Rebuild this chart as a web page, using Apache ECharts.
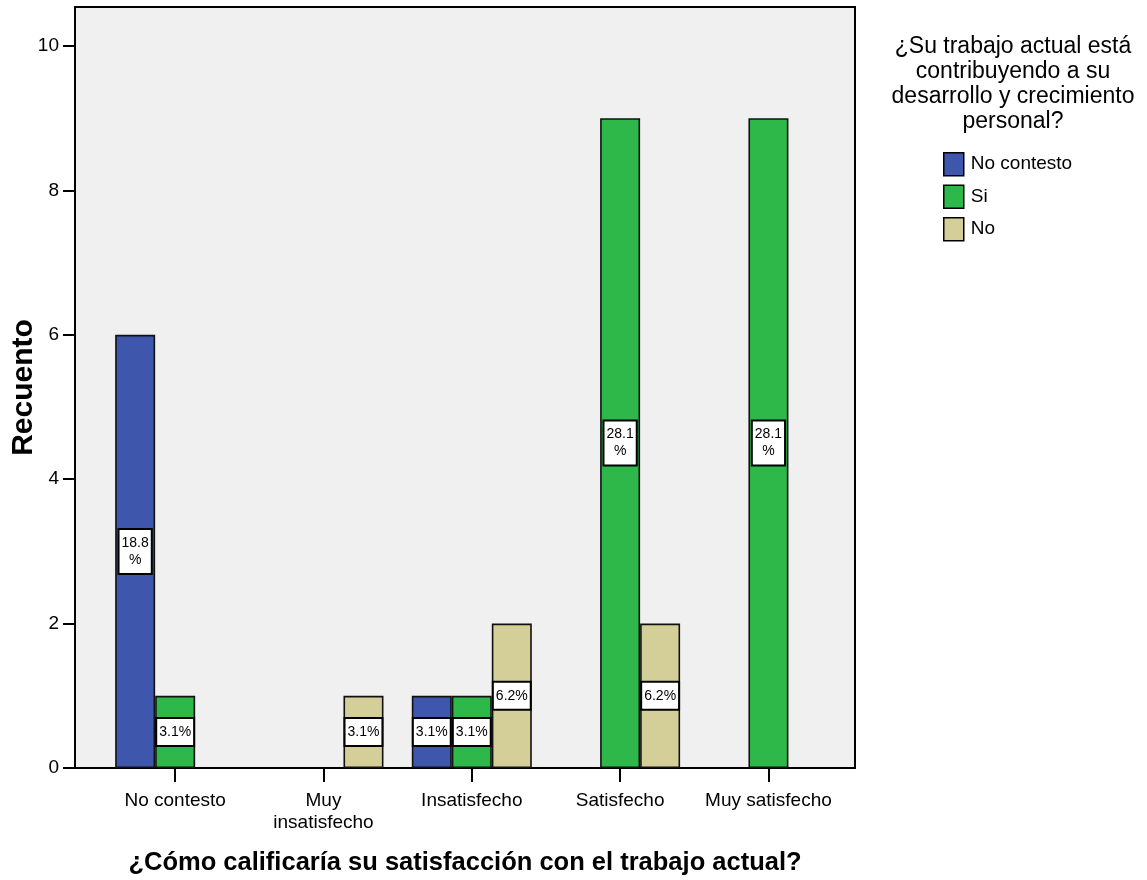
<!DOCTYPE html>
<html>
<head>
<meta charset="utf-8">
<script src="https://cdn.jsdelivr.net/npm/echarts@6/dist/echarts.min.js"></script>
<style>html,body{margin:0;padding:0;background:#fff}#c{width:1147px;height:880px}</style>
</head>
<body>
<div id="c"></div>
<script>
// ---- data ----
const categories = ['No contesto', 'Muy\ninsatisfecho', 'Insatisfecho', 'Satisfecho', 'Muy satisfecho'];
const seriesNames = ['No contesto', 'Si', 'No'];
const noContesto = [6, 0, 1, 0, 0];
const si = [1, 0, 1, 9, 9];
const no = [0, 1, 2, 2, 0];
const pctNoContesto = ['18.8\n%', '', '3.1%', '', ''];
const pctSi = ['3.1%', '', '3.1%', '28.1\n%', '28.1\n%'];
const pctNo = ['', '3.1%', '6.2%', '6.2%', ''];
const yTicks = [0, 2, 4, 6, 8, 10];
const yMax = 10.54;
const legendTitle = '¿Su trabajo actual está\ncontribuyendo a su\ndesarrollo y crecimiento\npersonal?';
const xTitle = '¿Cómo calificaría su satisfacción con el trabajo actual?';
const yTitle = 'Recuento';
const colors = ['#3e56ab', '#2eb84a', '#d4cf98'];

const SANS = "'Liberation Sans', Arial, Helvetica, sans-serif";

function mkSeries(name, vals, labels, color) {
  return {
    name: name,
    type: 'bar',
    xAxisIndex: 1,
    yAxisIndex: 1,
    barWidth: 40,
    barGap: '0%',
    data: vals.map(function (v) { return v === 0 ? null : v; }),
    itemStyle: { color: color, borderColor: '#111', borderWidth: 1.6 },
    label: {
      show: true,
      position: 'inside',
      formatter: function (p) { return labels[p.dataIndex]; },
      fontFamily: SANS,
      fontSize: 14,
      lineHeight: 17,
      color: '#000',
      backgroundColor: '#fff',
      borderColor: '#000',
      borderWidth: 2,
      padding: [5, 2, 4, 2],
      align: 'center'
    }
  };
}

const chart = echarts.init(document.getElementById('c'), null, { renderer: 'canvas' });
chart.setOption({
  animation: false,
  color: colors,
  title: {
    text: legendTitle,
    left: 1008,
    top: 29,
    textAlign: 'center',
    textStyle: { fontFamily: SANS, fontSize: 23, fontWeight: 'normal', lineHeight: 25, color: '#000', align: 'center' }
  },
  legend: {
    orient: 'vertical',
    left: 943,
    top: 152,
    padding: 0,
    itemWidth: 20,
    itemHeight: 23,
    itemGap: 8,
    icon: 'rect',
    itemStyle: { borderColor: '#000', borderWidth: 1.5 },
    textStyle: { fontFamily: SANS, fontSize: 19, lineHeight: 23, color: '#000', padding: [0, 0, 0, 2] },
    data: seriesNames
  },
  grid: [
    { left: 75, top: 7, width: 780, height: 761, show: true, backgroundColor: '#f0f0f0', borderColor: '#000', borderWidth: 2, outerBoundsMode: 'none', containLabel: false },
    { left: 101, top: 7, width: 741.6, height: 761, outerBoundsMode: 'none', containLabel: false }
  ],
  xAxis: [
    {
      gridIndex: 0, type: 'value', min: 0, max: 1,
      axisLine: { show: false }, axisTick: { show: false }, axisLabel: { show: false }, splitLine: { show: false },
      name: xTitle, nameLocation: 'middle', nameGap: 82, nameMoveOverlap: false,
      nameTextStyle: { fontFamily: SANS, fontWeight: 'bold', fontSize: 25.5, color: '#000' }
    },
    {
      gridIndex: 1, type: 'category', data: categories,
      axisLine: { show: false },
      axisTick: { show: true, alignWithLabel: true, length: 14, lineStyle: { color: '#000', width: 2 } },
      axisLabel: { fontFamily: SANS, fontSize: 19, color: '#000', margin: 22, lineHeight: 22, interval: 0 },
      splitLine: { show: false }
    }
  ],
  yAxis: [
    {
      gridIndex: 0, type: 'value', min: 0, max: yMax,
      axisLine: { show: true, lineStyle: { color: '#000', width: 2 } },
      axisTick: { show: true, length: 12, lineStyle: { color: '#000', width: 2 }, customValues: yTicks },
      axisLabel: { fontFamily: SANS, fontSize: 19, color: '#000', margin: 16, customValues: yTicks },
      splitLine: { show: false },
      name: yTitle, nameLocation: 'middle', nameGap: 36, nameRotate: 90, nameMoveOverlap: false,
      nameTextStyle: { fontFamily: SANS, fontWeight: 'bold', fontSize: 30, color: '#000' }
    },
    {
      gridIndex: 1, type: 'value', min: 0, max: yMax, show: false, splitLine: { show: false }
    }
  ],
  series: [
    mkSeries(seriesNames[0], noContesto, pctNoContesto, colors[0]),
    mkSeries(seriesNames[1], si, pctSi, colors[1]),
    mkSeries(seriesNames[2], no, pctNo, colors[2])
  ]
});
</script>
</body>
</html>
